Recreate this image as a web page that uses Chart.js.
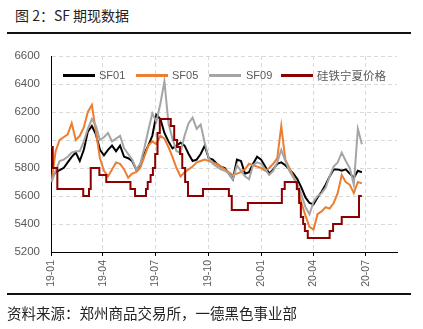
<!DOCTYPE html>
<html>
<head>
<meta charset="utf-8">
<script src="https://cdn.jsdelivr.net/npm/chart.js@4"></script>
<style>
  html, body { margin: 0; padding: 0; background: #fff; }
  #wrap { position: relative; width: 423px; height: 329px; overflow: hidden; font-family: "Noto Sans CJK SC", "Noto Sans", sans-serif; }
  #title { position: absolute; left: 15px; top: 5px; font-size: 14px; color: #222; white-space: nowrap; line-height: 20px; }
  .rule { position: absolute; left: 7px; width: 404px; height: 2px; background: #111; }
  #source { position: absolute; left: 7px; top: 303px; font-size: 14.5px; color: #222; white-space: nowrap; line-height: 20px; }
  #chart { position: absolute; left: 0; top: 0; }
  #legend { position: absolute; top: 68px; left: 0; height: 14px; font-family: "Liberation Sans", Arial, sans-serif; font-size: 11px; color: #595959; }
  .lg-line { position: absolute; top: 6px; height: 3px; }
  .lg-text { position: absolute; top: 0; line-height: 14px; white-space: nowrap; }
  .lg-cjk { font-family: "Noto Sans CJK SC", sans-serif; font-size: 11.5px; }
</style>
</head>
<body>
<div id="wrap">
  <div id="title">图 2：SF 期现数据</div>
  <div class="rule" style="top:32px"></div>
  <canvas id="chart" width="423" height="329"></canvas>
  <div id="legend"></div>
  <div class="rule" style="top:293px"></div>
  <div id="source">资料来源：郑州商品交易所，一德黑色事业部</div>
</div>
<script>
// Axis: days counted from 2019-01-01
const tickDays   = [0, 90, 181, 273, 365, 456, 547];
const tickLabels = ['19-01', '19-04', '19-07', '19-10', '20-01', '20-04', '20-07'];

// Weekly futures closes (first week starts on day 1)
const firstDay = 1;
const weekStep = 7;
const sf01 = [5730,5770,5785,5800,5840,5880,5910,5850,5930,6060,6100,6040,5930,5890,5930,5960,5920,5960,5880,5870,
              5850,5790,5820,5900,5960,6030,6180,6150,6050,5990,5940,5960,5980,5960,5900,5850,5860,5900,5960,5870,
              5860,5830,5810,5800,5760,5720,5860,5850,5760,5770,5830,5880,5860,5810,5760,5790,5830,5840,5820,5790,
              5760,5720,5660,5590,5550,5540,5590,5630,5680,5740,5790,5790,5780,5790,5760,5730,5780,5770];
const sf05 = [5700,5920,6000,6020,6040,6120,6000,6030,6090,6200,6250,6060,5870,5780,5740,5790,5840,5830,5790,5730,
              5760,5770,5800,5880,5960,5990,5970,6030,6010,5950,5880,5800,5740,5770,5790,5810,5840,5850,5860,5850,
              5840,5830,5810,5790,5770,5750,5760,5770,5790,5830,5820,5810,5800,5780,5800,5830,5870,6100,5860,5800,
              5740,5680,5550,5460,5380,5360,5470,5490,5520,5510,5550,5620,5750,5700,5680,5620,5700,5690];
const sf09 = [5700,5780,5850,5860,5880,5910,5920,5920,5990,6080,6150,6100,6000,6020,6050,5990,6010,6030,5940,5900,
              5860,5790,5830,5940,6070,6190,6130,6260,6420,6120,6010,5920,5910,6030,6120,6160,6080,6110,5980,5870,
              5830,5810,5790,5780,5760,5720,5820,5780,5740,5720,5820,5840,5830,5790,5750,5780,5840,5930,5850,5780,
              5730,5680,5610,5520,5470,5560,5600,5620,5660,5740,5810,5840,5910,5850,5800,5680,6080,5970];

// Ningxia ferrosilicon spot price: day of each change and the new price
const spotDays  = [0, 3, 11, 56, 66, 69, 84, 96, 138, 146, 165, 168, 173, 177, 181, 185, 189, 208, 214, 219,
                   224, 228, 233, 238, 264, 309, 314, 342, 401, 406, 427, 431, 434, 438, 441, 446, 484, 490, 505, 535, 540];
const spotPrice = [5950, 5800, 5650, 5600, 5650, 5800, 5750, 5700, 5650, 5600, 5650, 5700, 5750, 5800, 5900, 6050, 6150, 6100, 6000, 5950,
                   5900, 5800, 5700, 5600, 5650, 5600, 5500, 5550, 5650, 5700, 5650, 5550, 5450, 5400, 5350, 5300, 5350, 5400, 5450, 5600, 5600];

const seriesNames  = ['SF01', 'SF05', 'SF09', '硅铁宁夏价格'];
const seriesColors = ['#000000', '#ED7D31', '#A5A5A5', '#8B0000'];

const weekly = vals => vals.map((v, i) => ({ x: firstDay + i * weekStep, y: v }));
const spot = spotDays.map((d, i) => ({ x: d, y: spotPrice[i] }));

const lineBase = { borderWidth: 2, pointRadius: 0, pointHoverRadius: 0, tension: 0, fill: false };

new Chart(document.getElementById('chart'), {
  type: 'line',
  data: {
    datasets: [
      { ...lineBase, label: seriesNames[0], data: weekly(sf01), borderColor: seriesColors[0], order: 4 },
      { ...lineBase, label: seriesNames[1], data: weekly(sf05), borderColor: seriesColors[1], order: 3 },
      { ...lineBase, label: seriesNames[2], data: weekly(sf09), borderColor: seriesColors[2], order: 2 },
      { ...lineBase, label: seriesNames[3], data: spot, borderColor: seriesColors[3], stepped: true, order: 1 }
    ]
  },
  options: {
    responsive: false,
    animation: false,
    devicePixelRatio: 1,
    layout: { padding: { top: 56, left: 0, right: 26, bottom: 0 } },
    plugins: { legend: { display: false }, tooltip: { enabled: false } },
    scales: {
      x: {
        type: 'linear',
        min: 0,
        max: 601,
        afterFit: s => { s.height = 77; },
        afterBuildTicks: s => { s.ticks = tickDays.map(v => ({ value: v })); },
        ticks: {
          autoSkip: false,
          minRotation: 90,
          maxRotation: 90,
          padding: 4,
          color: '#595959',
          font: { family: 'Liberation Sans, Arial, sans-serif', size: 10.5 },
          callback: v => tickLabels[tickDays.indexOf(v)]
        },
        grid: { color: '#D9D9D9', lineWidth: 1, tickLength: 4, tickColor: '#000', drawTicks: true },
        border: { display: true, color: '#000', width: 1, dash: [4, 3] }
      },
      y: {
        min: 5200,
        max: 6600,
        afterFit: s => { s.width = 51; },
        ticks: {
          stepSize: 200,
          padding: 11,
          color: '#595959',
          font: { family: 'Liberation Sans, Arial, sans-serif', size: 11.5 },
          callback: v => String(v)
        },
        grid: { color: '#D9D9D9', lineWidth: 1, drawTicks: false },
        border: { display: true, color: '#000', width: 1, dash: [4, 3] }
      }
    }
  }
});

// Legend placed inside the plot area
const legendItems = [
  { line: 63, text: 99 },
  { line: 136, text: 172 },
  { line: 209, text: 246 },
  { line: 281, text: 317 }
];
const legend = document.getElementById('legend');
legendItems.forEach((it, i) => {
  const ln = document.createElement('div');
  ln.className = 'lg-line';
  ln.style.left = it.line + 'px';
  ln.style.width = '32px';
  ln.style.background = seriesColors[i];
  legend.appendChild(ln);
  const tx = document.createElement('div');
  tx.className = 'lg-text' + (i === 3 ? ' lg-cjk' : '');
  tx.style.left = it.text + 'px';
  tx.textContent = seriesNames[i];
  legend.appendChild(tx);
});
</script>
</body>
</html>
